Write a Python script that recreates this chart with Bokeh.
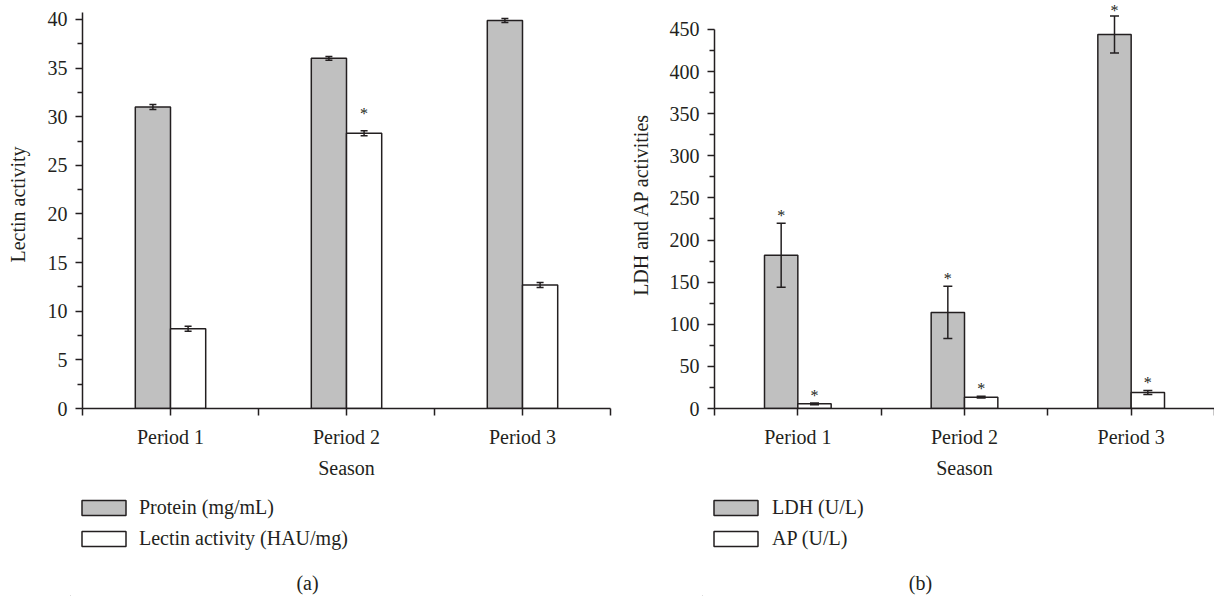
from bokeh.plotting import figure
from bokeh.models import (Range1d, FixedTicker, ColumnDataSource, Whisker, TeeHead,
                          Legend, LegendItem)
from bokeh.layouts import row, column
from bokeh.embed import file_html
from bokeh.resources import INLINE
from bokeh.core.properties import value

# ---------------- data ----------------
periods = ["Period 1", "Period 2", "Period 3"]

protein = [31.0, 36.0, 39.9]
protein_err = [0.25, 0.2, 0.2]
protein_sig = [False, False, False]

lectin = [8.2, 28.3, 12.7]
lectin_err = [0.25, 0.25, 0.25]
lectin_sig = [False, True, False]

ldh = [182.0, 114.0, 444.0]
ldh_err = [38.0, 31.0, 22.0]
ldh_sig = [True, True, True]

ap = [5.5, 13.5, 19.0]
ap_err = [1.0, 1.0, 2.5]
ap_sig = [True, True, True]

ticks_a = [0, 5, 10, 15, 20, 25, 30, 35, 40]
ticks_b = [0, 50, 100, 150, 200, 250, 300, 350, 400, 450]

# ---------------- style ----------------
FONT = "Liberation Serif"
INK = "#231f20"
GREY = "#c0c0c0"
FRAME_H = 408
TOP_H = 481
BOTTOM_H = 115


def style_fig(p):
    p.outline_line_color = None
    p.xgrid.visible = False
    p.ygrid.visible = False
    p.background_fill_color = "white"
    p.border_fill_color = "white"


def chart(width, border_left, border_right, y_end, y_bound, y_ticks, y_label,
          series, cap, star_gap, ylabel_standoff):
    n = len(periods)
    ppu = FRAME_H / y_end
    p = figure(width=width, height=TOP_H, x_range=Range1d(0, n),
               y_range=Range1d(0, y_end), output_backend="svg",
               toolbar_location=None, min_border_left=border_left,
               min_border_right=border_right, min_border_top=0,
               min_border_bottom=TOP_H - FRAME_H)
    style_fig(p)

    for name, vals, errs, sig, fill, shift in series:
        xs = [i + 0.5 + shift for i in range(n)]
        upper = [v + e for v, e in zip(vals, errs)]
        lower = [v - e for v, e in zip(vals, errs)]
        src = ColumnDataSource(dict(x=xs, top=vals, upper=upper, lower=lower))
        p.vbar(x="x", top="top", bottom=0, width=0.2, source=src,
               fill_color=fill, line_color=INK, line_width=1.5)
        w = Whisker(base="x", upper="upper", lower="lower", source=src,
                    level="annotation", line_color=INK, line_width=1.5,
                    upper_head=TeeHead(size=cap, line_color=INK, line_width=1.5),
                    lower_head=TeeHead(size=cap, line_color=INK, line_width=1.5))
        p.add_layout(w)
        sx = [x for x, s in zip(xs, sig) if s]
        su = [u for u, s in zip(upper, sig) if s]
        if sx:
            offs = [-min(star_gap - 3, (y_end - u) * ppu - 9.5) for u in su]
            p.text(x=sx, y=su, text=["*"] * len(sx), y_offset=offs,
                   text_align="center", text_baseline="middle",
                   text_font=value(FONT), text_font_size="16px", text_color=INK)

    xt = sorted(list(range(n + 1)) + [i + 0.5 for i in range(n)])
    overrides = {i: "" for i in range(n + 1)}
    overrides.update({i + 0.5: periods[i] for i in range(n)})
    xa = p.xaxis[0]
    xa.ticker = FixedTicker(ticks=xt, minor_ticks=[])
    xa.major_label_overrides = overrides
    xa.axis_label = "Season"
    xa.major_label_standoff = 10
    xa.axis_label_standoff = 6

    ya = p.yaxis[0]
    minors = [(a + b) / 2 for a, b in zip(y_ticks, y_ticks[1:])]
    ya.ticker = FixedTicker(ticks=y_ticks, minor_ticks=minors)
    ya.bounds = (0, y_bound)
    ya.axis_label = y_label
    ya.major_label_standoff = 8
    ya.axis_label_standoff = ylabel_standoff

    for ax in (xa, ya):
        ax.axis_line_color = INK
        ax.axis_line_width = 1.5
        ax.major_tick_line_color = INK
        ax.major_tick_line_width = 1.5
        ax.major_tick_out = 7
        ax.major_tick_in = 0
        ax.minor_tick_line_color = INK
        ax.minor_tick_line_width = 1.5
        ax.minor_tick_out = 5
        ax.minor_tick_in = 0
        ax.major_label_text_font = FONT
        ax.major_label_text_font_size = "20px"
        ax.major_label_text_color = INK
        ax.axis_label_text_font = FONT
        ax.axis_label_text_font_size = "20px"
        ax.axis_label_text_font_style = "normal"
        ax.axis_label_text_color = INK
    return p


def key_panel(width, border_left, border_right, series, letter, letter_shift,
              label_standoff):
    q = figure(width=width, height=BOTTOM_H, x_range=Range1d(0, 1),
               y_range=Range1d(0, 1), output_backend="svg",
               toolbar_location=None, x_axis_location=None,
               y_axis_location=None, min_border_left=border_left,
               min_border_right=border_right, min_border_top=0,
               min_border_bottom=0)
    style_fig(q)
    items = []
    for name, fill in series:
        # swatch-only renderer: a zero-size bar placed outside the visible ranges
        r = q.vbar(x=[-5], top=[-5], bottom=[-5], width=0, fill_color=fill,
                   line_color=INK, line_width=1.5)
        items.append(LegendItem(label=name, renderers=[r]))
    leg = Legend(items=items, location=(6, 46), orientation="vertical",
                 glyph_width=55, glyph_height=19, label_height=20, spacing=8,
                 label_standoff=label_standoff, padding=0, margin=0,
                 border_line_color=None, background_fill_alpha=0,
                 label_text_font=FONT, label_text_font_size="20px",
                 label_text_color=INK)
    q.add_layout(leg)
    q.text(x=[0.5], y=[0], text=[letter], x_offset=letter_shift, y_offset=-14,
           text_align="center", text_baseline="middle",
           text_font=value(FONT), text_font_size="20px", text_color=INK)
    return q


pa = chart(626, 82, 16, 41.95, 40.75, ticks_a, "Lectin activity",
           [("Protein (mg/mL)", protein, protein_err, protein_sig, GREY, -0.1),
            ("Lectin activity (HAU/mg)", lectin, lectin_err, lectin_sig, "white", 0.1)],
           7, 20, 16)

pb = chart(588, 88, 0, 484.4, 450, ticks_b, "LDH and AP activities",
           [("LDH (U/L)", ldh, ldh_err, ldh_sig, GREY, -0.1),
            ("AP (U/L)", ap, ap_err, ap_sig, "white", 0.1)],
           9, 11, 15)

la = key_panel(626, 70, 16, [("Protein (mg/mL)", GREY),
                             ("Lectin activity (HAU/mg)", "white")],
               "(a)", -33, 8)
lb = key_panel(588, 76, 0, [("LDH (U/L)", GREY), ("AP (U/L)", "white")],
               "(b)", -38, 9)

layout = column(row(pa, pb), row(la, lb))
open("out.html", "w").write(file_html(layout, INLINE))
